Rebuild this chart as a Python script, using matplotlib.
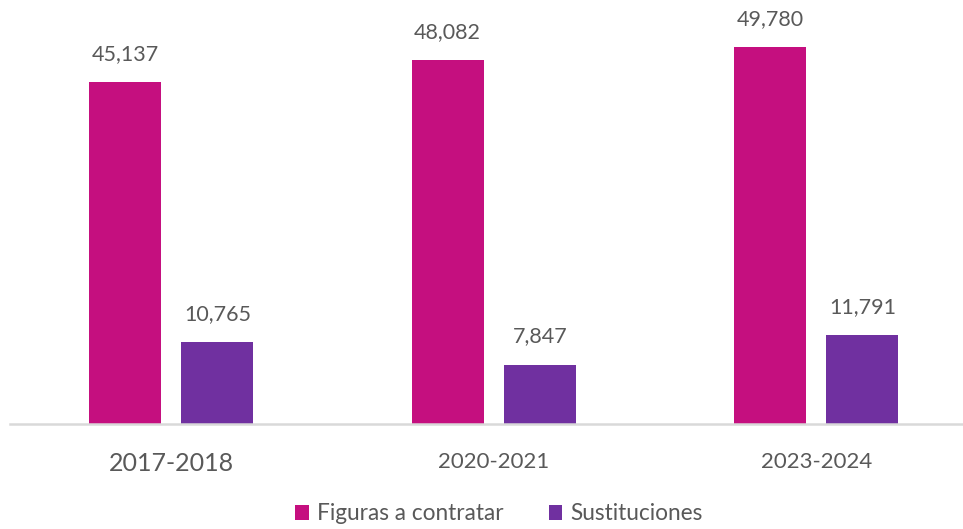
import matplotlib.pyplot as plt
import numpy as np

plt.rcParams['font.family'] = ['Lato', 'DejaVu Sans']

# data
periods = ["2017-2018", "2020-2021", "2023-2024"]
figuras = [45137, 48082, 49780]
sustituciones = [10765, 7847, 11791]
series_names = ["Figuras a contratar", "Sustituciones"]

pink = "#C50F7F"
purple = "#7030A0"
text_grey = "#595959"

fig = plt.figure(figsize=(9.63, 5.29), dpi=100)
# axes spans from the baseline (y=424 px) to the top, x goes slightly past the right edge
ax = fig.add_axes([10 / 963, 1 - 424 / 529, 967.5 / 963, 424 / 529])

x = np.arange(len(periods))
width = 0.223
offset = 0.143

bars1 = ax.bar(x - offset, figuras, width=width, color=pink, label=series_names[0])
bars2 = ax.bar(x + offset, sustituciones, width=width, color=purple, label=series_names[1])

for bars in (bars1, bars2):
    for b in bars:
        ax.annotate(f"{int(b.get_height()):,}",
                    (b.get_x() + b.get_width() / 2, b.get_height()),
                    xytext=(0, 13), textcoords="offset points",
                    ha="center", va="bottom", fontsize=15.5, color=text_grey)

ax.set_xlim(-0.5, 2.5)
ax.set_ylim(0, 56000)
ax.set_yticks([])
for side in ("top", "right", "left"):
    ax.spines[side].set_visible(False)
ax.spines["bottom"].set_color("#D9D9D9")
ax.spines["bottom"].set_linewidth(1.8)

ax.set_xticks(x)
ax.set_xticklabels(periods, color=text_grey)
ax.tick_params(axis="x", length=0, pad=20)
tick_sizes = [18, 16, 16]
for lbl, size in zip(ax.get_xticklabels(), tick_sizes):
    lbl.set_fontsize(size)

fig.legend(handles=[bars1, bars2], labels=series_names, loc="center",
           bbox_to_anchor=(499 / 963, 1 - 514 / 529), ncol=2, frameon=False,
           fontsize=16.3, labelcolor=text_grey, handlelength=0.6, handleheight=0.6,
           handletextpad=0.35, columnspacing=2.0)

fig.savefig("out.png", dpi=100)
